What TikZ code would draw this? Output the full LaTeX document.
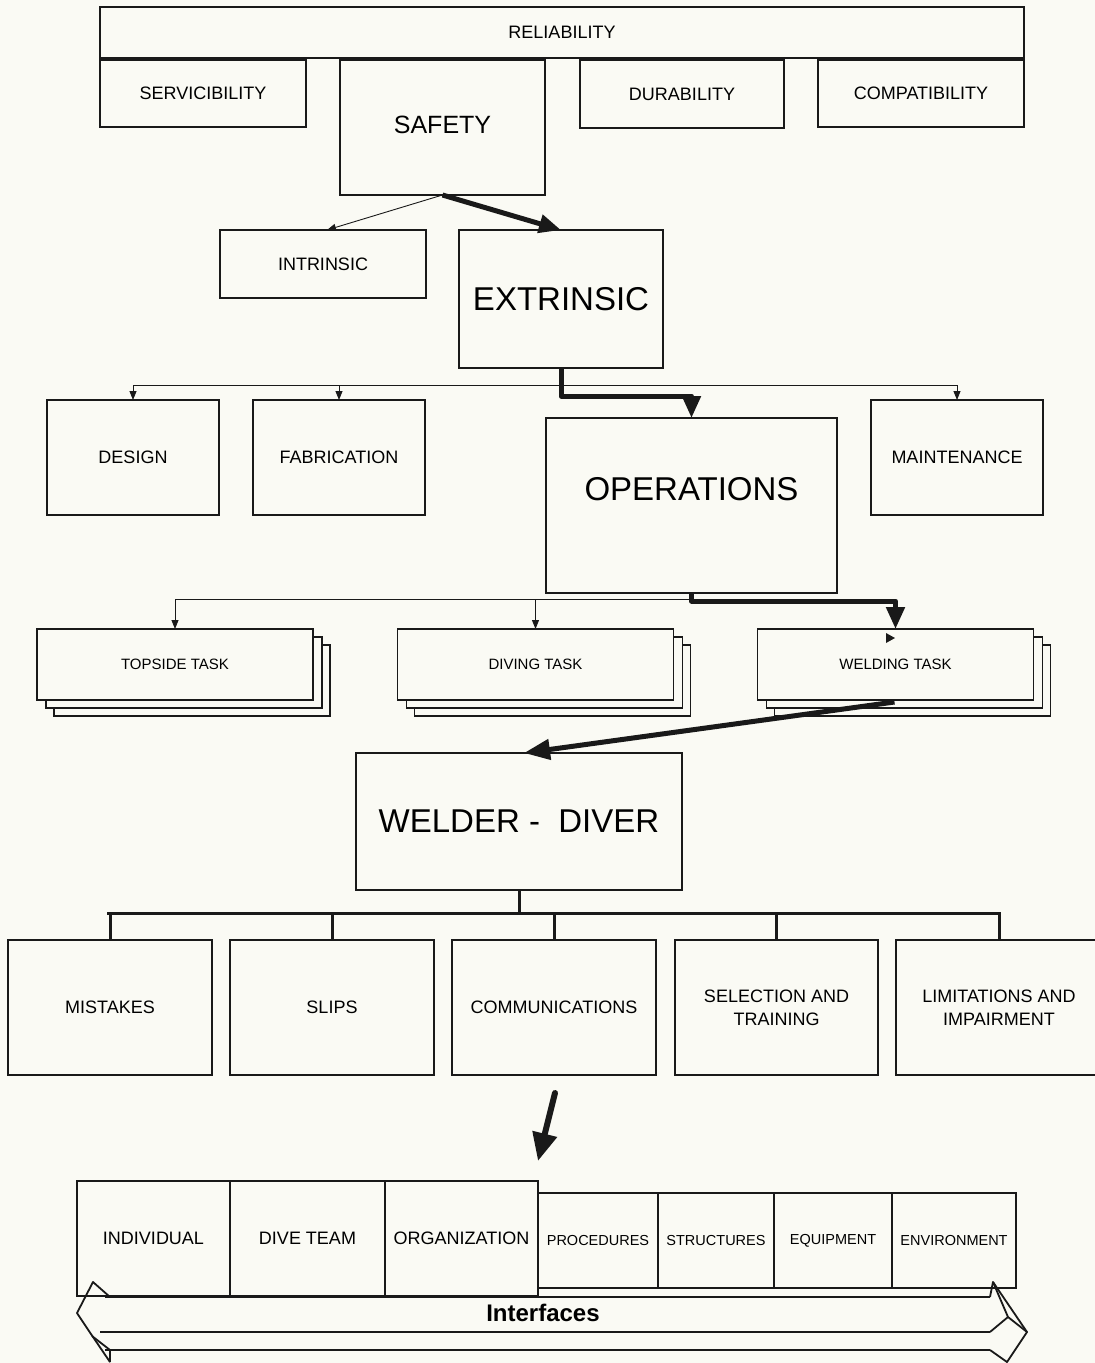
\documentclass[tikz,border=0pt]{standalone}
\usepackage{fontspec}
\setmainfont{Liberation Sans}
\usetikzlibrary{arrows.meta,calc}
\definecolor{bg}{RGB}{250,250,244}
\definecolor{ink}{RGB}{25,25,25}
\begin{document}
\begin{tikzpicture}[x=1pt,y=-1pt,
  box/.style={draw=ink,line width=1.3pt,fill=bg,inner sep=0pt,outer sep=0pt,align=center},
  fs/.style={font=\fontsize{18}{22}\selectfont},
  fl/.style={font=\fontsize{33}{38}\selectfont},
  fm/.style={font=\fontsize{25}{30}\selectfont},
  ftask/.style={font=\fontsize{15}{18}\selectfont},
  ft/.style={font=\fontsize{14.5}{17}\selectfont},
  thinarr/.style={draw=ink,line width=0.9pt,-{Triangle[length=9pt,width=7pt]}},
  thickarr/.style={draw=ink,line width=5pt,line join=round,-{Triangle[length=22pt,width=18pt]}},
  busline/.style={draw=ink,line width=1pt},
  treeline/.style={draw=ink,line width=3pt},
  ifc/.style={draw=ink,line width=1.8pt,line join=round}]
\useasboundingbox (0,0) rectangle (1095,1363);
\fill[bg] (0,0) rectangle (1095,1363);

% top level
\node[box,fs,minimum width=924pt,minimum height=51pt] (rel) at (562,32.5) {RELIABILITY};
\node[box,fs,minimum width=206pt,minimum height=67pt] (serv) at (203,93.5) {SERVICIBILITY};
\node[box,fm,minimum width=205pt,minimum height=135pt] (safety) at (442.5,127.5) {};
\node[fm,inner sep=0pt] (safetyT) at (442.5,125) {SAFETY};
\node[box,fs,minimum width=204pt,minimum height=68pt] (dur) at (682,94) {DURABILITY};
\node[box,fs,minimum width=206pt,minimum height=67pt] (comp) at (921,93.5) {COMPATIBILITY};

% intrinsic / extrinsic
\node[box,fs,minimum width=206pt,minimum height=68pt] (intr) at (323,264) {INTRINSIC};
\node[box,fl,minimum width=204pt,minimum height=138pt] (extr) at (561,299) {EXTRINSIC};

% life cycle
\node[box,fs,minimum width=172pt,minimum height=115pt] (design) at (133,457.5) {DESIGN};
\node[box,fs,minimum width=172pt,minimum height=115pt] (fab) at (339,457.5) {FABRICATION};
\node[box,minimum width=291pt,minimum height=175pt] (ops) at (691.5,505.5) {};
\node[fl,inner sep=0pt] (opsT) at (691.5,489) {OPERATIONS};
\node[box,fs,minimum width=172pt,minimum height=115pt] (maint) at (957,457.5) {MAINTENANCE};

% task stacks
\foreach \nm/\cx/\tx in {top/175/TOPSIDE TASK,div/535.5/DIVING TASK,weld/895.5/WELDING TASK}{
  \node[box,minimum width=276pt,minimum height=71pt] (\nm s2) at (\cx+17,680.5) {};
  \node[box,minimum width=276pt,minimum height=71pt] (\nm s1) at (\cx+9,672.5) {};
  \node[box,ftask,minimum width=276pt,minimum height=71pt] (\nm) at (\cx,664.5) {\tx};
}
\fill[ink] (886,633) -- (895,638) -- (886,643) -- cycle;

% welder diver
\node[box,fl,minimum width=326pt,minimum height=137pt] (wd) at (519,821.5) {WELDER -\ \ DIVER};

% human factors
\node[box,fs,minimum width=204pt,minimum height=135pt] (mist) at (110,1007.5) {MISTAKES};
\node[box,fs,minimum width=204pt,minimum height=135pt] (slips) at (332,1007.5) {SLIPS};
\node[box,fs,minimum width=204pt,minimum height=135pt] (comm) at (554,1007.5) {COMMUNICATIONS};
\node[box,fs,minimum width=203pt,minimum height=135pt] (sel) at (776.5,1007.5) {SELECTION AND\\[1pt]TRAINING};
\node[box,fs,minimum width=206pt,minimum height=135pt] (lim) at (999,1007.5) {LIMITATIONS AND\\[1pt]IMPAIRMENT};

% interfaces row
\node[box,fs,minimum width=153pt,minimum height=115pt] (indiv) at (153.5,1238.5) {INDIVIDUAL};
\node[box,fs,minimum width=155pt,minimum height=115pt] (team) at (307.5,1238.5) {DIVE TEAM};
\node[box,fs,minimum width=153pt,minimum height=115pt] (org) at (461.5,1238.5) {ORGANIZATION};
\node[box,ft,minimum width=120pt,minimum height=95pt] (proc) at (598,1240.5) {PROCEDURES};
\node[box,ft,minimum width=116pt,minimum height=95pt] (struc) at (716,1240.5) {STRUCTURES};
\node[box,ft,minimum width=118pt,minimum height=95pt] (equip) at (833,1240.5) {EQUIPMENT};
\node[box,ft,minimum width=124pt,minimum height=95pt] (env) at (954,1240.5) {ENVIRONMENT};

% connectors: safety
\draw[thinarr] (safety.south) -- ($(intr.north)+(4,0)$);
\draw[thickarr] (safety.south) -- (extr.north);

% extrinsic bus
\coordinate (bE) at (0,385);
\coordinate (tA) at (0,396);
\draw[busline] (design.north |- bE) -- (maint.north |- bE);
\draw[thinarr] (design.north |- bE) -- (design.north);
\draw[thinarr] (fab.north |- bE) -- (fab.north);
\draw[thinarr] (maint.north |- bE) -- (maint.north);
\draw[thickarr] (extr.south) -- (extr.south |- tA) -- (ops.north |- tA) -- (ops.north);

% operations bus
\coordinate (bO) at (0,599);
\coordinate (tB) at (0,601);
\draw[busline] (top.north |- bO) -- (ops.south |- bO);
\draw[thinarr] (top.north |- bO) -- (top.north);
\draw[thinarr] (div.north |- bO) -- (div.north);
\draw[thickarr] (ops.south) -- (ops.south |- tB) -- (weld.north |- tB) -- (weld.north);

% welding -> welder diver
\draw[thickarr,-{Triangle[length=26pt,width=20pt]}] ($(weld.south)+(-1,2)$) -- ($(wd.north)+(5,0)$);

% welder diver tree
\coordinate (bW) at (0,913);
\draw[treeline] (wd.south) -- (wd.south |- bW);
\draw[treeline,line cap=rect] ($(mist.north |- bW)+(-2,0)$) -- (lim.north |- bW);
\foreach \nd in {mist,slips,comm,sel,lim}{
  \draw[treeline] (\nd.north |- bW) -- (\nd.north);
}

% communications -> interfaces
\draw[draw=ink,line width=6pt,line cap=round,-{Triangle[length=28pt,width=24pt]}] ($(comm.south)+(1,18)$) -- ($(org.north east)+(0,-20)$);

% interfaces 3D double arrow
\fill[bg] (105,1297) -- (990,1297) -- (990,1350) -- (105,1350) -- cycle;
\draw[ifc] (105,1297) -- (990,1297);
\draw[ifc] (100,1332) -- (990,1332);
\draw[ifc] (105,1350) -- (990,1350);
\draw[ifc] (110,1297) -- (93,1282) -- (77,1313) -- (91,1334) -- (110,1362);
\draw[ifc] (92,1336) -- (110,1350) -- (110,1362);
\draw[ifc] (990,1297) -- (993,1282) -- (1027,1332) -- (1007,1362) -- (990,1350);
\draw[ifc] (993,1282) -- (1008,1317) -- (1027,1332);
\draw[ifc] (990,1332) -- (1008,1317);
\node[font=\bfseries\fontsize{24}{28}\selectfont,inner sep=0pt] (ifcT) at (543,1313) {Interfaces};
\end{tikzpicture}
\end{document}
